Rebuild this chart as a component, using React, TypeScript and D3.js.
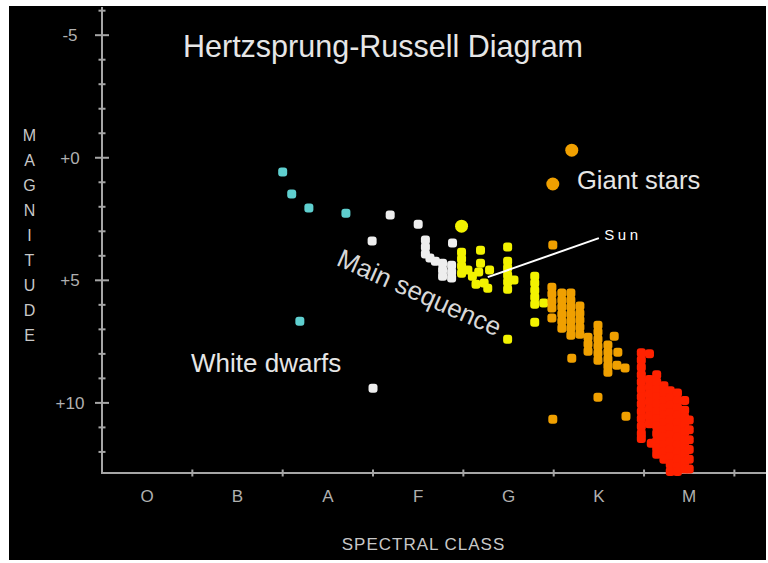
import React, { useEffect, useRef } from "react";
import * as d3 from "d3";

// [spectral position, absolute magnitude]
type Star = [number, number];

const spectralClasses = ["O", "B", "A", "F", "G", "K", "M"];
const classBoundaries = [1, 2, 3, 4, 5, 6, 7];
const magnitudeLabels = [-5, 0, 5, 10];
const magnitudeTicks = [-6, -5, -4, -3, -2, -1, 0, 1, 2, 3, 4, 5, 6, 7, 8, 9, 10, 11, 12];
const axisLetters = ["M", "A", "G", "N", "I", "T", "U", "D", "E"];

const cyanStars: Star[] = [
  [2.0, 0.58], [2.1, 1.48], [2.29, 2.05], [2.7, 2.26], [2.19, 6.67],
];

const whiteStars: Star[] = [
  [3.19, 2.34], [3.5, 2.71], [2.99, 3.4], [3.88, 3.48],
  [3.58, 3.36], [3.58, 3.64], [3.58, 3.93], [3.63, 4.09], [3.69, 4.22],
  [3.77, 4.3], [3.77, 4.58], [3.77, 4.83], [3.87, 4.38], [3.87, 4.66], [3.87, 4.91],
  [3.0, 9.4],
];

const yellowStars: Star[] = [
  [4.19, 3.77], [4.49, 3.64],
  [3.98, 3.85], [3.98, 4.13], [3.98, 4.42], [3.98, 4.71],
  [4.05, 4.58], [4.1, 4.83], [4.17, 4.66], [4.19, 4.3], [4.23, 5.11],
  [4.27, 5.32], [4.14, 5.16], [4.29, 4.58],
  [4.49, 4.22], [4.49, 4.5], [4.49, 4.79], [4.49, 5.07], [4.49, 5.36], [4.56, 4.99],
  [4.79, 4.83], [4.79, 5.11], [4.79, 5.4], [4.79, 5.69], [4.79, 5.98], [4.89, 5.93],
  [4.79, 6.71], [4.49, 7.4],
];

const orangeStars: Star[] = [
  [4.99, 3.56],
  [4.98, 5.28], [4.98, 5.56], [4.98, 5.85], [4.98, 6.13], [4.98, 6.54],
  [5.09, 5.52], [5.09, 5.81], [5.09, 6.09], [5.09, 6.38], [5.09, 6.67], [5.09, 6.95],
  [5.19, 5.52], [5.19, 5.81], [5.19, 6.09], [5.19, 6.38], [5.19, 6.67], [5.19, 6.95], [5.19, 7.24],
  [5.29, 6.05], [5.29, 6.34], [5.29, 6.62], [5.29, 6.91], [5.29, 7.2],
  [5.38, 7.32], [5.38, 7.6], [5.38, 7.89],
  [5.49, 6.83], [5.49, 7.11], [5.49, 7.4], [5.49, 7.69], [5.49, 7.97], [5.49, 8.26],
  [5.6, 7.64], [5.6, 7.93], [5.6, 8.22], [5.6, 8.5], [5.6, 8.75],
  [5.67, 7.28], [5.71, 7.93], [5.7, 8.46], [5.79, 8.58], [5.2, 8.18],
  [5.49, 9.77], [4.99, 10.67], [5.8, 10.54],
];

const redStars: Star[] = [
  [5.97, 7.95], [5.97, 8.25], [5.97, 8.55], [5.97, 8.85], [5.97, 9.15], [5.97, 9.45], [5.97, 9.75],
  [5.97, 10.05], [5.97, 10.35], [5.97, 10.65], [5.97, 10.95], [5.97, 11.25], [5.97, 11.45],
  [6.06, 8.0], [6.06, 9.05], [6.06, 9.35], [6.06, 9.65], [6.06, 9.95], [6.06, 10.25], [6.06, 10.55], [6.06, 10.85],
  [6.14, 8.85], [6.14, 9.15], [6.14, 9.45], [6.14, 9.75], [6.14, 10.05], [6.14, 10.35], [6.14, 10.65],
  [6.14, 10.95], [6.14, 11.25], [6.14, 11.55], [6.14, 11.85], [6.14, 12.1],
  [6.22, 9.3], [6.22, 9.6], [6.22, 9.9], [6.22, 10.2], [6.22, 10.5], [6.22, 10.8], [6.22, 11.1],
  [6.22, 11.4], [6.22, 11.7], [6.22, 12.0], [6.22, 12.3],
  [6.29, 9.5], [6.29, 9.8], [6.29, 10.1], [6.29, 10.4], [6.29, 10.7], [6.29, 11.0], [6.29, 11.3],
  [6.29, 11.6], [6.29, 11.9], [6.29, 12.2], [6.29, 12.5], [6.29, 12.8],
  [6.37, 9.6], [6.37, 9.9], [6.37, 10.2], [6.37, 10.5], [6.37, 10.8], [6.37, 11.1], [6.37, 11.4],
  [6.37, 11.7], [6.37, 12.0], [6.37, 12.3], [6.37, 12.6], [6.37, 12.8],
  [6.45, 9.9], [6.45, 10.3], [6.45, 10.6], [6.45, 10.9], [6.45, 11.2], [6.45, 11.5], [6.45, 11.8],
  [6.45, 12.1], [6.45, 12.4], [6.45, 12.7],
  [6.5, 10.7], [6.5, 11.1], [6.5, 11.5], [6.5, 11.9], [6.5, 12.3], [6.5, 12.7],
  [6.08, 11.65],
];

const giantStars: Star[] = [[5.2, -0.31], [4.99, 1.07]];
const brightYellow: Star[] = [[3.98, 2.79]];

// Sun pointer: from the star to the label
const sunLine: Star[] = [[4.27, 4.87], [5.5, 3.28]];
const sunLabel: Star = [5.56, 3.36];

const FONT = '"Liberation Sans", Arial, Helvetica, sans-serif';

const App: React.FC = () => {
  const svgRef = useRef<SVGSVGElement>(null);

  useEffect(() => {
    if (!svgRef.current) return;
    const svg = d3.select(svgRef.current);
    svg.selectAll("*").remove();

    // black panel
    svg.append("rect").attr("width", 768).attr("height", 563).attr("fill", "#fff");
    svg
      .append("rect")
      .attr("x", 9)
      .attr("y", 6)
      .attr("width", 757)
      .attr("height", 554)
      .attr("fill", "#000");

    const x = d3.scaleLinear().domain([0, 7.35]).range([102, 766]);
    const y = d3.scaleLinear().domain([-6.15, 12.86]).range([7, 473]);

    const axisColor = "#a6a6a6";
    const x0 = x(0);
    const yBottom = y(12.86);

    // axes
    svg
      .append("line")
      .attr("x1", x0)
      .attr("x2", x0)
      .attr("y1", y(-6.15))
      .attr("y2", yBottom)
      .attr("stroke", axisColor)
      .attr("stroke-width", 2);
    svg
      .append("line")
      .attr("x1", x0 - 1)
      .attr("x2", x(7.35))
      .attr("y1", yBottom)
      .attr("y2", yBottom)
      .attr("stroke", axisColor)
      .attr("stroke-width", 2);

    // magnitude ticks (cross ticks, longer at labelled values)
    svg
      .append("g")
      .selectAll("line")
      .data(magnitudeTicks)
      .join("line")
      .attr("x1", (d) => x0 - (magnitudeLabels.includes(d) ? 7 : 3.5))
      .attr("x2", (d) => x0 + (magnitudeLabels.includes(d) ? 7 : 3.5))
      .attr("y1", (d) => y(d))
      .attr("y2", (d) => y(d))
      .attr("stroke", axisColor)
      .attr("stroke-width", 2);

    svg
      .append("g")
      .selectAll("text")
      .data(magnitudeLabels)
      .join("text")
      .attr("x", 70)
      .attr("y", (d) => y(d) + 6)
      .attr("text-anchor", "middle")
      .attr("font-family", FONT)
      .attr("font-size", 17)
      .attr("fill", "#b0b0b0")
      .text((d) => (d < 0 ? `${d}` : `+${d}`));

    // spectral class ticks and labels
    svg
      .append("g")
      .selectAll("line")
      .data(classBoundaries)
      .join("line")
      .attr("x1", (d) => x(d))
      .attr("x2", (d) => x(d))
      .attr("y1", yBottom - 3.5)
      .attr("y2", yBottom + 3.5)
      .attr("stroke", axisColor)
      .attr("stroke-width", 2);

    svg
      .append("g")
      .selectAll("text")
      .data(spectralClasses)
      .join("text")
      .attr("x", (_, i) => x(i + 0.5))
      .attr("y", 502)
      .attr("text-anchor", "middle")
      .attr("font-family", FONT)
      .attr("font-size", 17)
      .attr("fill", "#b0b0b0")
      .text((d) => d);

    // axis titles
    svg
      .append("text")
      .attr("x", 423.5)
      .attr("y", 550)
      .attr("text-anchor", "middle")
      .attr("font-family", FONT)
      .attr("font-size", 17)
      .attr("letter-spacing", 1)
      .attr("fill", "#c8c8c8")
      .text("SPECTRAL CLASS");

    svg
      .append("g")
      .selectAll("text")
      .data(axisLetters)
      .join("text")
      .attr("x", 29.5)
      .attr("y", (_, i) => 141 + i * 25)
      .attr("text-anchor", "middle")
      .attr("font-family", FONT)
      .attr("font-size", 16)
      .attr("fill", "#c8c8c8")
      .text((d) => d);

    // stars
    const groups: [Star[], string][] = [
      [cyanStars, "#5fcfcf"],
      [whiteStars, "#eeeeee"],
      [yellowStars, "#f2f200"],
      [orangeStars, "#f0a000"],
      [redStars, "#ff2200"],
    ];
    groups.forEach(([stars, color]) => {
      svg
        .append("g")
        .selectAll("rect")
        .data(stars)
        .join("rect")
        .attr("x", (d) => x(d[0]) - 4.5)
        .attr("y", (d) => y(d[1]) - 4.5)
        .attr("width", 9)
        .attr("height", 9)
        .attr("rx", 3)
        .attr("fill", color);
    });

    svg
      .append("g")
      .selectAll("circle")
      .data(giantStars)
      .join("circle")
      .attr("cx", (d) => x(d[0]))
      .attr("cy", (d) => y(d[1]))
      .attr("r", 6.5)
      .attr("fill", "#f0a000");
    svg
      .append("g")
      .selectAll("circle")
      .data(brightYellow)
      .join("circle")
      .attr("cx", (d) => x(d[0]))
      .attr("cy", (d) => y(d[1]))
      .attr("r", 6.5)
      .attr("fill", "#f2f200");

    // Sun pointer
    svg
      .append("path")
      .datum(sunLine)
      .attr("d", d3.line<Star>().x((d) => x(d[0])).y((d) => y(d[1])))
      .attr("stroke", "#ffffff")
      .attr("stroke-width", 2)
      .attr("fill", "none");
    svg
      .append("text")
      .attr("x", x(sunLabel[0]))
      .attr("y", y(sunLabel[1]))
      .attr("font-family", FONT)
      .attr("font-size", 15)
      .attr("letter-spacing", 3.5)
      .attr("fill", "#ffffff")
      .text("Sun");

    // titles and region labels
    const label = (text: string, lx: number, ly: number, size: number) =>
      svg
        .append("text")
        .attr("x", lx)
        .attr("y", ly)
        .attr("font-family", FONT)
        .attr("font-size", size)
        .attr("fill", "#e6e6e6")
        .text(text);

    label("Hertzsprung-Russell Diagram", 183, 57, 30.5);
    label("Giant stars", 577, 189, 25.5);
    label("White dwarfs", 191, 372, 26);

    svg
      .append("text")
      .attr("transform", "translate(419.5,292.5) rotate(24)")
      .attr("y", 9)
      .attr("text-anchor", "middle")
      .attr("font-family", FONT)
      .attr("font-size", 26)
      .attr("fill", "#d8d8d8")
      .text("Main sequence");
  }, []);

  return (
    <div style={{ position: "fixed", left: 0, top: 0 }}>
      <svg ref={svgRef} width={768} height={563} style={{ display: "block" }} />
    </div>
  );
};

export default App;
